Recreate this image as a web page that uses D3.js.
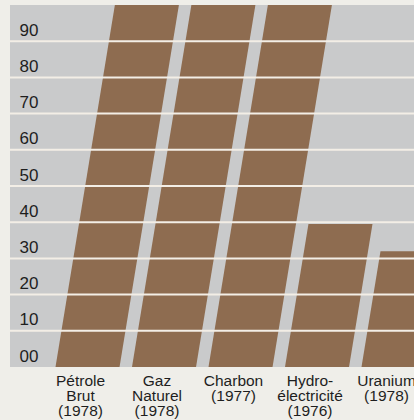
<!DOCTYPE html>
<html>
<head>
<meta charset="utf-8">
<script src="https://cdn.jsdelivr.net/npm/d3@7"></script>
<style>
  html, body { margin: 0; padding: 0; background: #efeee9; overflow: hidden; }
  svg { display: block; }
  text { font-family: "Liberation Sans", Arial, Helvetica, sans-serif; fill: #1e1e1e; }
</style>
</head>
<body>
<script>
const categories = [
  ["Pétrole", "Brut", "(1978)"],
  ["Gaz", "Naturel", "(1978)"],
  ["Charbon", "(1977)"],
  ["Hydro-", "électricité", "(1976)"],
  ["Uranium", "(1978)"]
];
const values = [100, 100, 100, 39.5, 32];
const tickValues = [0, 10, 20, 30, 40, 50, 60, 70, 80, 90];
const tickLabels = ["00", "10", "20", "30", "40", "50", "60", "70", "80", "90"];

const W = 414, H = 420;
const panel = { left: 10, top: 5, right: 414, bottom: 367 };
const slant = 0.164;

const svg = d3.select("body").append("svg").attr("width", W).attr("height", H);

const y = d3.scaleLinear().domain([0, 100]).range([panel.bottom, panel.top]);
const x = d3.scaleBand()
  .domain(d3.range(categories.length))
  .range([55.5, 55.5 + 76.5 * (categories.length - 0.163)])
  .paddingInner(0.163)
  .paddingOuter(0);

// panel
svg.append("rect")
  .attr("x", panel.left).attr("y", panel.top)
  .attr("width", panel.right - panel.left)
  .attr("height", panel.bottom - panel.top)
  .attr("fill", "#c9cacb");

// slanted bars
svg.append("g").selectAll("path")
  .data(values)
  .join("path")
  .attr("fill", "#8e6c50")
  .attr("d", (v, i) => {
    const x0 = x(i), w = x.bandwidth();
    const yb = y(0), yt = y(v);
    const dx = slant * (yb - yt);
    return `M${x0},${yb}L${x0 + w},${yb}L${x0 + w + dx},${yt}L${x0 + dx},${yt}Z`;
  });

// gridlines
svg.append("g").selectAll("line")
  .data(tickValues.filter(d => d > 0))
  .join("line")
  .attr("x1", panel.left).attr("x2", panel.right)
  .attr("y1", d => y(d)).attr("y2", d => y(d))
  .attr("stroke", "#f3eee6").attr("stroke-width", 2);

// y tick labels
svg.append("g").selectAll("text")
  .data(tickValues)
  .join("text")
  .attr("x", 29)
  .attr("y", d => y(d) - 5.5)
  .attr("text-anchor", "middle")
  .style("font-size", "17px")
  .text((d, i) => tickLabels[i]);

// category labels
const cat = svg.append("g").selectAll("text")
  .data(categories)
  .join("text")
  .attr("text-anchor", "middle")
  .style("font-size", "15.5px")
  .attr("transform", (d, i) => `translate(${x(i) + x.bandwidth() / 2 - 7},${385.5})`);
cat.selectAll("tspan")
  .data(d => d)
  .join("tspan")
  .attr("x", 0)
  .attr("y", (d, j) => j * 15)
  .text(d => d);
</script>
</body>
</html>
